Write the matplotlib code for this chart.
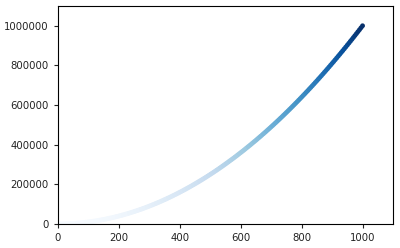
import matplotlib
matplotlib.use("Agg")
import matplotlib.pyplot as plt

# points read every 10 units along x
x_values = list(range(0, 1001, 10))
y_values = [0, 100, 400, 900, 1600, 2500, 3600, 4900, 6400, 8100, 10000,
            12100, 14400, 16900, 19600, 22500, 25600, 28900, 32400, 36100, 40000,
            44100, 48400, 52900, 57600, 62500, 67600, 72900, 78400, 84100, 90000,
            96100, 102400, 108900, 115600, 122500, 129600, 136900, 144400, 152100, 160000,
            168100, 176400, 184900, 193600, 202500, 211600, 220900, 230400, 240100, 250000,
            260100, 270400, 280900, 291600, 302500, 313600, 324900, 336400, 348100, 360000,
            372100, 384400, 396900, 409600, 422500, 435600, 448900, 462400, 476100, 490000,
            504100, 518400, 532900, 547600, 562500, 577600, 592900, 608400, 624100, 640000,
            656100, 672400, 688900, 705600, 722500, 739600, 756900, 774400, 792100, 810000,
            828100, 846400, 864900, 883600, 902500, 921600, 940900, 960400, 980100, 1000000]

# points in between (x = 5, 15, ..., 995)
x_mid = list(range(5, 1000, 10))
y_mid = [25, 225, 625, 1225, 2025, 3025, 4225, 5625, 7225, 9025,
         11025, 13225, 15625, 18225, 21025, 24025, 27225, 30625, 34225, 38025,
         42025, 46225, 50625, 55225, 60025, 65025, 70225, 75625, 81225, 87025,
         93025, 99225, 105625, 112225, 119025, 126025, 133225, 140625, 148225, 156025,
         164025, 172225, 180625, 189225, 198025, 207025, 216225, 225625, 235225, 245025,
         255025, 265225, 275625, 286225, 297025, 308025, 319225, 330625, 342225, 354025,
         366025, 378225, 390625, 403225, 416025, 429025, 442225, 455625, 469225, 483025,
         497025, 511225, 525625, 540225, 555025, 570025, 585225, 600625, 616225, 632025,
         648025, 664225, 680625, 697225, 714025, 731025, 748225, 765625, 783225, 801025,
         819025, 837225, 855625, 874225, 893025, 912025, 931225, 950625, 970225, 990025]

x_ticks = [0, 200, 400, 600, 800, 1000]
y_ticks = [0, 200000, 400000, 600000, 800000, 1000000]

x_all = x_values + x_mid
y_all = y_values + y_mid

fig = plt.figure(figsize=(4, 2.48), dpi=100)
ax = fig.add_axes([0.145, 0.097, 0.8375, 0.879])

ax.scatter(x_all, y_all, c=y_all, cmap=plt.cm.Blues,
           edgecolor='none', s=12)

ax.set_xlim(0, 1100)
ax.set_ylim(0, 1100000)
ax.set_xticks(x_ticks)
ax.set_yticks(y_ticks)
ax.ticklabel_format(style='plain', useOffset=False)
ax.tick_params(labelsize=7.3, length=3, width=0.8, colors='#222222')
for s in ax.spines.values():
    s.set_linewidth(0.8)

plt.savefig("out.png", dpi=100)
